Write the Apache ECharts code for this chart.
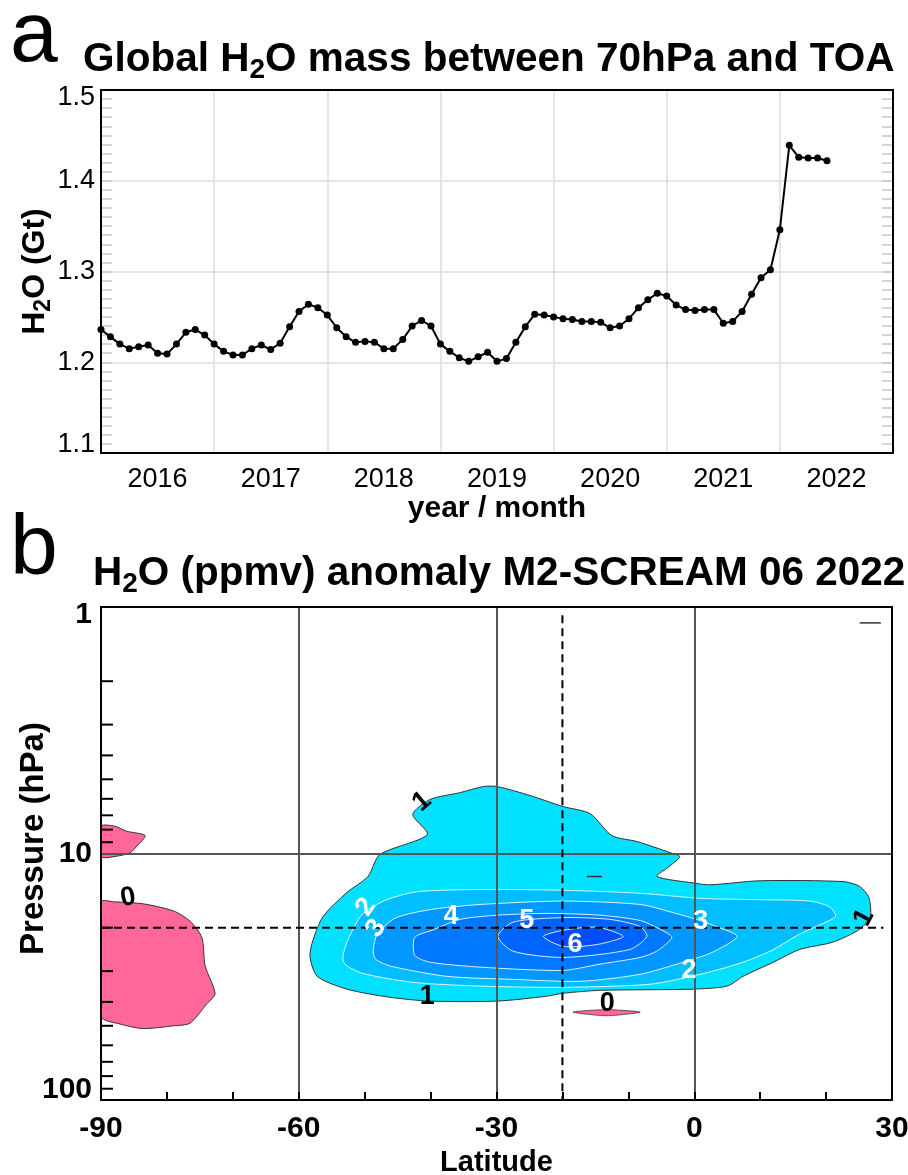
<!DOCTYPE html>
<html><head><meta charset="utf-8">
<script src="https://cdn.jsdelivr.net/npm/echarts@6/dist/echarts.min.js"></script>
<style>html,body{margin:0;padding:0;background:#fff}#c{width:908px;height:1175px}</style>
</head><body><div id="c"></div>
<script>
const FONT = '"Liberation Sans", Arial, Helvetica, sans-serif';

// ---------- Panel a: monthly global H2O mass (Gt), Jan 2016 .. Jun 2022 ----------
const years = ['2016','2017','2018','2019','2020','2021','2022'];
const h2oMass = [
  1.236,1.228,1.220,1.215,1.217,1.219,1.210,1.209,1.220,1.233,1.236,1.230,
  1.220,1.212,1.208,1.208,1.215,1.219,1.214,1.221,1.239,1.256,1.264,1.260,
  1.252,1.238,1.228,1.222,1.223,1.222,1.215,1.215,1.225,1.240,1.246,1.240,
  1.220,1.212,1.205,1.201,1.206,1.211,1.201,1.204,1.222,1.239,1.253,1.252,
  1.250,1.248,1.247,1.245,1.245,1.244,1.238,1.240,1.248,1.260,1.269,1.276,
  1.273,1.263,1.258,1.257,1.258,1.258,1.243,1.245,1.256,1.275,1.293,1.302,
  1.346,1.439,1.426,1.425,1.425,1.422
];

// ---------- Panel b: H2O anomaly contours (lat, pressure hPa) ----------
const pressureMinorTicks = [2,3,4,5,6,7,8,9,20,30,40,50,60,70,80,90];
const refLat = -20;
const refP = 20;
const pinkSmall = [[-90,7.75],[-87.9,7.75],[-86.1,8.12],[-83.3,8.46],[-84.6,9.34],[-85.6,9.94],[-87.6,10.25],[-90,10.3]];
const pinkLeft = [[-90,15.7],[-88.1,15.7],[-83.6,16.0],[-79.0,17.1],[-76.5,18.8],[-74.7,21.9],[-74.2,28.6],[-72.7,37.0],[-74.0,40.9],[-76.5,48.8],[-79.0,50.0],[-83.6,51.3],[-87.1,49.2],[-90,45.8]];
const pinkLens = [[-18.4,44.0],[-13.3,43.0],[-8.2,44.0],[-13.3,45.5]];
const level1 = [[-58.3,26.1],[-57.8,22.3],[-56.3,18.0],[-52.7,14.4],[-49.5,12.4],[-47.7,10.1],[-40.5,8.38],[-42.7,6.95],[-40.1,6.04],[-35.5,5.66],[-32.0,5.35],[-29.9,5.35],[-24.9,5.82],[-19.9,6.45],[-15.8,6.89],[-12.5,8.46],[-8.7,8.94],[-3.7,9.91],[-2.2,10.3],[-4.0,11.4],[-5.65,12.4],[0.1,13.2],[2.4,13.4],[10.0,12.9],[22.6,13.0],[25.1,13.6],[26.5,15.1],[26.7,18.0],[25.1,20.3],[21.0,22.9],[16.0,24.5],[12.0,27.6],[7.4,31.5],[5.0,34.5],[-0.2,35.5],[-14.3,35.9],[-19.9,36.9],[-22.3,37.9],[-29.9,39.7],[-40.1,39.7],[-46.2,38.3],[-52.7,35.5],[-57.2,31.5]];
const level2 = [[-53.3,26.1],[-52.5,22.3],[-50.4,17.7],[-46.9,15.5],[-42.1,14.3],[-32.5,14.0],[-19.9,14.1],[-8.2,14.5],[0.9,15.2],[10.0,15.4],[17.6,15.6],[20.6,16.5],[21.4,18.0],[18.8,19.6],[15.6,21.5],[11.8,24.7],[6.9,27.9],[0.9,30.9],[-6.7,33.9],[-19.9,34.9],[-32.5,34.5],[-42.7,33.3],[-50.4,30.6],[-53.0,28.1]];
const level3 = [[-48.7,24.9],[-48.1,21.3],[-45.4,18.3],[-40.1,16.9],[-32.5,16.1],[-19.9,15.6],[-8.2,16.1],[-2.8,17.5],[0.9,18.7],[3.6,19.9],[6.5,21.7],[2.7,25.2],[-1.7,27.6],[-8.2,30.9],[-17.3,33.0],[-27.5,32.4],[-37.5,31.5],[-45.9,28.7],[-48.3,26.9]];
const level4 = [[-42.4,25.9],[-42.4,21.9],[-39.8,20.5],[-35.5,18.5],[-29.9,17.8],[-22.3,17.5],[-14.3,17.8],[-8.2,18.7],[-5.2,20.3],[-3.4,21.9],[-5.7,24.9],[-8.2,26.4],[-14.3,28.1],[-19.9,29.8],[-32.5,28.9],[-40.1,27.6]];
const level5 = [[-29.8,21.7],[-27.5,19.0],[-19.9,18.2],[-12.8,18.5],[-8.2,19.8],[-7.2,21.7],[-9.75,24.5],[-19.9,26.4],[-27.5,24.9]];
const level6 = [[-22.9,21.7],[-19.9,20.5],[-14.75,19.9],[-10.8,21.7],[-14.75,23.4],[-19.9,23.8]];
const tinyMarkA = [[-16.3,12.4],[-14.0,12.4]];
const tinyMarkB = [[25.1,1.16],[28.3,1.16]];
const labelText = ['1','1','1','0','0','2','3','4','5','6','3','2'];
const labelLat  = [-41.3,-40.5,25.75,-85.9,-13.2,-49.8,-48.3,-36.9,-25.4,-18.1,1.0,-0.8];
const labelP    = [6.16,37.9,18.2,15.1,40.5,16.5,20.1,18.0,18.7,23.4,18.8,29.8];

// styles
const labelColor = ['#000','#000','#000','#000','#000','#fff','#fff','#fff','#fff','#fff','#fff','#fff'];
const labelRot   = [40,0,62,10,0,55,55,0,0,0,0,0];
const shapes = [
  {pts: pinkSmall, fill:'#FF6699', stroke:'#333', lw:1},
  {pts: pinkLeft,  fill:'#FF6699', stroke:'#333', lw:1},
  {pts: pinkLens,  fill:'#FF6699', stroke:'#333', lw:0.8},
  {pts: level1, fill:'#00E1FF', stroke:'#333', lw:1},
  {pts: level2, fill:'#00BEFF', stroke:'rgba(255,255,255,0.85)', lw:1},
  {pts: level3, fill:'#0098FF', stroke:'rgba(255,255,255,0.85)', lw:1},
  {pts: level4, fill:'#0078FF', stroke:'rgba(255,255,255,0.85)', lw:1},
  {pts: level5, fill:'#0064FF', stroke:'rgba(255,255,255,0.85)', lw:1},
  {pts: level6, fill:'#004EFF', stroke:'rgba(255,255,255,0.85)', lw:1}
];
const marks = [tinyMarkA, tinyMarkB];

const chart = echarts.init(document.getElementById('c'), null, {renderer:'canvas'});
const axisFont = {fontFamily: FONT, color:'#000'};
const lblA = {fontFamily:FONT, fontSize:27, color:'#000'};
const lblB = {fontFamily:FONT, fontWeight:'bold', fontSize:30, color:'#000'};

const option = {
  animation: false,
  backgroundColor: '#fff',
  title: [
    {text:'{b|Global H}{s|2}{b|O mass between 70hPa and TOA}', left:83, top:36, padding:0,
     textStyle:{rich:{b:{fontSize:40.5, fontWeight:'bold', fontFamily:FONT, color:'#000', lineHeight:48},
                      s:{fontSize:28, fontWeight:'bold', fontFamily:FONT, color:'#000', lineHeight:28, padding:[20,0,0,0], verticalAlign:'top'}}}},
    {text:'{b|H}{s|2}{b|O (ppmv) anomaly M2-SCREAM 06 2022}', left:93, top:550, padding:0,
     textStyle:{rich:{b:{fontSize:40.5, fontWeight:'bold', fontFamily:FONT, color:'#000', lineHeight:48},
                      s:{fontSize:28, fontWeight:'bold', fontFamily:FONT, color:'#000', lineHeight:28, padding:[20,0,0,0], verticalAlign:'top'}}}}
  ],
  graphic: [
    {type:'text', left:10, top:-6, style:{text:'a', font:'86px ' + FONT, fill:'#000'}},
    {type:'text', left:10, top:507, style:{text:'b', font:'86px ' + FONT, fill:'#000'}}
  ],
  grid: [
    {left:101, top:90, width:792, height:363, show:true, borderColor:'#000', borderWidth:2, backgroundColor:'transparent', z:10, containLabel:false, outerBoundsMode:'none'},
    {left:101, top:607, width:791, height:493, show:true, borderColor:'#000', borderWidth:2, backgroundColor:'transparent', z:10, containLabel:false, outerBoundsMode:'none'}
  ],
  xAxis: [
    {gridIndex:0, type:'value', min:0, max:84, interval:6,
     axisLine:{show:false, onZero:false}, axisTick:{show:false}, splitLine:{show:false},
     axisLabel:{...axisFont, fontSize:27, margin:13, formatter: v => ((v-6)%12===0 ? years[(v-6)/12] : '')},
     name:'year / month', nameLocation:'middle', nameGap:41, nameMoveOverlap:false,
     nameTextStyle:{fontFamily:FONT, fontWeight:'bold', fontSize:30, color:'#000'}},
    {gridIndex:0, type:'value', min:0, max:84, interval:12,
     axisLine:{show:false, onZero:false}, axisTick:{show:false}, axisLabel:{show:false},
     splitLine:{show:true, showMinLine:false, showMaxLine:false, lineStyle:{color:'#dcdcdc', width:1.5}}},
    {gridIndex:1, type:'value', min:-90, max:30, interval:30, z:3,
     axisLine:{show:false, onZero:false},
     axisTick:{show:true, inside:true, length:8, lineStyle:{color:'#000', width:2}},
     minorTick:{show:true, splitNumber:3, length:8, lineStyle:{color:'#000', width:2}},
     splitLine:{show:true, showMinLine:false, showMaxLine:false, lineStyle:{color:'#555', width:2}},
     axisLabel:{...axisFont, fontSize:30, fontWeight:'bold', margin:14},
     name:'Latitude', nameLocation:'middle', nameGap:48, nameMoveOverlap:false,
     nameTextStyle:{fontFamily:FONT, fontWeight:'bold', fontSize:29, color:'#000'}}
  ],
  yAxis: [
    {gridIndex:0, type:'value', min:1.1, max:1.5, interval:0.1,
     axisLine:{show:false, onZero:false},
     axisTick:{show:true, inside:true, length:11, lineStyle:{color:'#c8c8c8', width:1.5}},
     minorTick:{show:true, splitNumber:10, length:11, lineStyle:{color:'#c8c8c8', width:1.5}},
     splitLine:{show:true, showMinLine:false, showMaxLine:false, lineStyle:{color:'#dcdcdc', width:1.5}},
     axisLabel:{margin:6, formatter: v => {
         const s = v.toFixed(1);
         return s === '1.5' ? '{t|' + s + '}' : (s === '1.1' ? '{u|' + s + '}' : '{m|' + s + '}'); },
       rich:{t:{...lblA, padding:[16,0,0,0]}, u:{...lblA, padding:[0,0,16,0]}, m:{...lblA}}},
     name:'{b|H}{s|2}{b|O (Gt)}', nameLocation:'middle', nameRotate:90, nameGap:47, nameMoveOverlap:false,
     nameTextStyle:{rich:{b:{fontFamily:FONT, fontWeight:'bold', fontSize:32, color:'#000', lineHeight:38},
                          s:{fontFamily:FONT, fontWeight:'bold', fontSize:23, color:'#000', lineHeight:23, padding:[16,0,0,0], verticalAlign:'top'}}}},
    {gridIndex:0, type:'value', min:1.1, max:1.5, interval:0.1, position:'right',
     axisLine:{show:false, onZero:false}, axisLabel:{show:false}, splitLine:{show:false},
     axisTick:{show:true, inside:true, length:11, lineStyle:{color:'#c8c8c8', width:1.5}},
     minorTick:{show:true, splitNumber:10, length:11, lineStyle:{color:'#c8c8c8', width:1.5}}},
    {gridIndex:1, type:'log', logBase:10, min:1, max:100, inverse:true, z:3,
     axisLine:{show:false, onZero:false}, axisTick:{show:false},
     splitLine:{show:true, showMinLine:false, showMaxLine:false, lineStyle:{color:'#555', width:2}},
     axisLabel:{margin:9, formatter: v => { const r = Math.round(v); return r===1 ? '{t|1}' : (r===100 ? '{u|100}' : '{m|' + r + '}'); },
       rich:{t:{...lblB, padding:[16,0,0,0]}, u:{...lblB, padding:[0,0,20,0]}, m:{...lblB}}},
     name:'Pressure (hPa)', nameLocation:'middle', nameRotate:90, nameGap:51, nameMoveOverlap:false,
     nameTextStyle:{fontFamily:FONT, fontWeight:'bold', fontSize:33, color:'#000', padding:[0,0,0,30]}}
  ],
  series: [
    {type:'line', xAxisIndex:0, yAxisIndex:0, z:5,
     data: h2oMass.map((v,i) => [i, v]),
     symbol:'circle', symbolSize:7, showSymbol:true,
     lineStyle:{color:'#000', width:2}, itemStyle:{color:'#000'}},
    {type:'custom', xAxisIndex:2, yAxisIndex:2, z:2, clip:true,
     data: shapes.map(s => s.pts[0]),
     renderItem: (params, api) => {
       const s = shapes[params.dataIndex];
       return {type:'polygon', shape:{points: s.pts.map(q => api.coord(q)), smooth:0.25},
               style:{fill:s.fill, stroke:s.stroke, lineWidth:s.lw}};
     }},
    {type:'custom', xAxisIndex:2, yAxisIndex:2, z:3,
     data: marks.map(m => m[0]),
     renderItem: (params, api) => {
       const m = marks[params.dataIndex];
       return {type:'polyline', shape:{points: m.map(q => api.coord(q))}, style:{stroke:'#333', lineWidth:1.5, fill:null}};
     }},
    {type:'custom', xAxisIndex:2, yAxisIndex:2, z:6,
     data: pressureMinorTicks.map(p => [-90, p]),
     renderItem: (params, api) => {
       const pt = api.coord([api.value(0), api.value(1)]);
       return {type:'line', shape:{x1:pt[0], y1:pt[1], x2:pt[0]+12, y2:pt[1]}, style:{stroke:'#000', lineWidth:2}};
     }},
    {type:'line', xAxisIndex:2, yAxisIndex:2, z:7, symbol:'none', silent:true,
     data:[[-90, refP],[28.7, refP]], lineStyle:{color:'#000', width:2, type:[8,5]}},
    {type:'line', xAxisIndex:2, yAxisIndex:2, z:7, symbol:'none', silent:true,
     data:[[refLat, 1.08],[refLat, 100]], lineStyle:{color:'#000', width:2, type:[8,5]}},
    {type:'custom', xAxisIndex:2, yAxisIndex:2, z:8,
     data: labelText.map((t,i) => [labelLat[i], labelP[i]]),
     renderItem: (params, api) => {
       const i = params.dataIndex;
       const pt = api.coord([api.value(0), api.value(1)]);
       return {type:'text', x:pt[0], y:pt[1], rotation: labelRot[i]*Math.PI/180,
               style:{text:labelText[i], fill:labelColor[i], font:'bold 27px ' + FONT, align:'center', verticalAlign:'middle'}};
     }}
  ]
};
chart.setOption(option);
</script>
</body></html>
